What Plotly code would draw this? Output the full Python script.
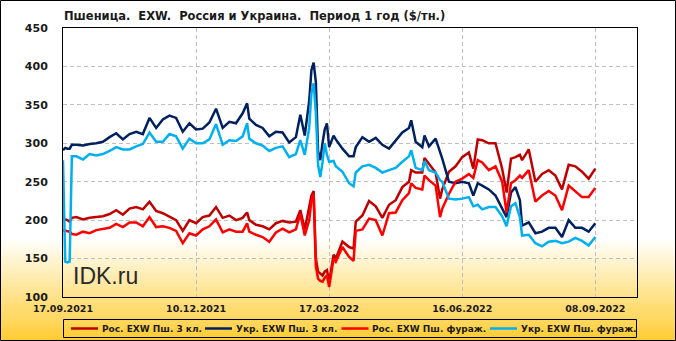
import plotly.graph_objects as go

# ---- data (x = trading-day index; 60 days between labelled dates) ----
X = [0, 1, 2, 3, 4, 6, 9, 12, 15, 18, 21, 24, 27, 30, 33, 36, 39, 42, 45, 48, 51, 54, 57, 60,
     63, 66, 69, 72, 75, 78, 81, 83, 84, 87, 90, 93, 96, 99, 102, 105, 107, 109, 111, 112, 113,
     114, 115, 116, 117, 118, 119, 120, 122, 123, 126, 129, 131, 132, 135, 138, 141, 144, 147,
     150, 153, 156, 157, 159, 162, 163, 165, 168, 170, 171, 174, 177, 180, 183, 185, 187, 189,
     192, 195, 198, 200, 202, 204, 206, 207, 210, 213, 216, 219, 222, 225, 228, 231, 234, 237, 240]

TICK_VALS = [0, 60, 120, 180, 240]
TICK_TEXT = ["17.09.2021", "10.12.2021", "17.03.2022", "16.06.2022", "08.09.2022"]

RUS_3 = [202, 201, 200, 198, 203,
         204, 201, 203, 204, 205, 208, 213, 207, 215, 217, 214, 224, 212, 209, 204, 200, 186, 200, 196, 204, 206, 217, 203, 206, 200, 203,
         210, 200,
         194, 192, 188, 196, 199, 197, 198,
         213, 188, 215,
         232, 238, 150, 133, 130, 128, 133, 135, 120,
         155, 150,
         172, 165,
         163, 198,
         206, 225, 218, 203, 220, 226, 243, 250,
         265, 262,
         262, 281,
         273, 262,
         228, 240,
         263, 270, 282, 288,
         267, 305, 304,
         300, 300, 267,
         236, 280, 282, 285, 278,
         292, 250, 260, 265, 258, 240, 272, 270, 263, 254, 267]

UKR_3 = [291, 294, 293, 293, 298,
         298, 297, 299, 300, 302, 308, 313, 305, 312, 315, 312, 333, 320, 331, 336, 333, 315, 326, 318, 319, 327, 345, 320, 328, 326, 339,
         352, 332,
         324, 320, 309, 315, 314, 301, 308,
         337, 310, 355,
         395, 405, 380, 290, 278, 300, 318, 326, 295,
         310, 305,
         293, 283,
         283, 295,
         308, 302, 307, 298, 293, 304, 314, 320,
         330, 302,
         295, 310,
         296, 306,
         290, 280,
         250, 248, 250, 248,
         232, 248, 245,
         240, 232, 214,
         204, 236, 243, 226, 193,
         197, 183, 185, 190, 190, 178, 200, 190, 190, 185, 196]

RUS_FEED = [187, 186, 185, 185, 182,
            181, 185, 183, 187, 189, 190, 195, 191, 197, 197, 192, 204, 191, 192, 190, 186, 170, 183, 180, 188, 192, 201, 184, 188, 185, 185,
            196, 185,
            181, 178, 172, 184, 189, 184, 188,
            208, 180, 200,
            225, 234, 140, 124, 121, 120, 125, 128, 113,
            150, 146,
            165, 152,
            147, 186,
            188, 202, 200, 180, 209, 210, 226, 235,
            248, 242,
            240, 258,
            252, 245,
            204, 215,
            234, 250, 254, 260,
            255, 278, 275,
            265, 270, 250,
            210, 248, 252, 258, 255,
            265, 224, 232, 238, 232, 213, 245, 238, 230, 230, 242]

UKR_FEED = [278, 146, 145, 146, 283,
            283, 279, 286, 284, 286, 290, 295, 292, 292, 296, 299, 314, 302, 302, 312, 309, 293, 306, 300, 300, 305, 325, 298, 304, 303, 309,
            326, 306,
            300, 297, 290, 294, 296, 282, 286,
            304, 285, 320,
            365, 378, 340, 272, 256, 275, 300, 285, 276,
            277, 270,
            263, 248,
            244, 262,
            270, 272, 268, 262, 265, 268, 276, 283,
            291, 268,
            265, 277,
            265, 262,
            252, 250,
            228, 227, 228, 230,
            218, 220, 214,
            217, 217, 205,
            192, 218, 222, 204, 180,
            181, 170, 166, 172, 173, 170, 172, 177, 173, 167, 178]

NAMES = ["Рос. EXW Пш. 3 кл.", "Укр. EXW Пш. 3 кл.", "Рос. EXW Пш. фураж.", "Укр. EXW Пш. фураж."]
VALUES = [RUS_3, UKR_3, RUS_FEED, UKR_FEED]
COLORS = ["#C00000", "#002060", "#FF0000", "#00B0F0"]
for vals in VALUES:
    assert len(vals) == len(X), len(vals)

# ---- geometry (pixels) ----
W, H = 676, 341
L, R, T, B = 63, 39, 28, 44
PW, PH = W - L - R, H - T - B


def px_x(p):
    return (p - L) / PW


def px_y(p):
    return 1 - (p - T) / PH


FONT = "Tahoma, Verdana, DejaVu Sans, sans-serif"

fig = go.Figure()
for name, vals, color in zip(NAMES, VALUES, COLORS):
    fig.add_trace(go.Scatter(x=X, y=vals, mode="lines", name=name,
                             line=dict(color=color, width=2.5), showlegend=False))

shapes = []
# background gradient (white -> gold) at the bottom of the chart
g0, g1 = 238, 341
c_end = (255, 204, 48)
steps = 52
for i in range(steps):
    y_a = g0 + (g1 - g0) * i / steps
    y_b = g0 + (g1 - g0) * (i + 1) / steps + 0.6
    t = (i + 0.5) / steps
    col = "rgb({},{},{})".format(
        round(255 + (c_end[0] - 255) * t),
        round(255 + (c_end[1] - 255) * t),
        round(255 + (c_end[2] - 255) * t))
    shapes.append(dict(type="rect", xref="paper", yref="paper", layer="below",
                       x0=px_x(0), x1=px_x(W), y0=px_y(y_b), y1=px_y(y_a),
                       fillcolor=col, line=dict(width=0)))
# legend frame
shapes.append(dict(type="rect", xref="paper", yref="paper", layer="above",
                   x0=px_x(63.5), x1=px_x(636.5), y0=px_y(337.5), y1=px_y(319.5),
                   fillcolor="rgba(0,0,0,0)", line=dict(color="black", width=1)))
# outer border
shapes.append(dict(type="rect", xref="paper", yref="paper", layer="above",
                   x0=px_x(0.5), x1=px_x(W - 0.5), y0=px_y(H - 0.5), y1=px_y(0.5),
                   fillcolor="rgba(0,0,0,0)", line=dict(color="black", width=1)))

annotations = [
    dict(text="Пшеница.\u00a0 EXW.\u00a0 Россия и Украина.\u00a0 Период 1 год ($/тн.)",
         xref="paper", yref="paper", x=px_x(62), y=px_y(16), xanchor="left", yanchor="middle",
         showarrow=False, font=dict(family=FONT, size=11.5, color="#1a1a1a", weight="bold")),
    dict(text="IDK.ru", xref="paper", yref="paper", x=px_x(71), y=px_y(276),
         xanchor="left", yanchor="middle", showarrow=False,
         font=dict(family="Liberation Sans, Arial, sans-serif", size=23, color="#2a2a2a")),
]

# manual legend (sample line + label) inside the framed strip below the plot
LEG_LINE_X = [71, 205, 341.5, 490]
LEG_Y = 328.5
for lx, name, color in zip(LEG_LINE_X, NAMES, COLORS):
    shapes.append(dict(type="line", xref="paper", yref="paper", layer="above",
                       x0=px_x(lx), x1=px_x(lx + 27), y0=px_y(LEG_Y), y1=px_y(LEG_Y),
                       line=dict(color=color, width=2.5)))
    annotations.append(dict(text=name, xref="paper", yref="paper", x=px_x(lx + 28.5),
                            y=px_y(LEG_Y), xanchor="left", yanchor="middle", showarrow=False,
                            font=dict(family=FONT, size=9, color="#1a1a1a", weight="bold")))

fig.update_layout(
    width=W, height=H,
    margin=dict(l=L, r=R, t=T, b=B, pad=0),
    paper_bgcolor="white", plot_bgcolor="rgba(0,0,0,0)",
    shapes=shapes, annotations=annotations,
    showlegend=False,
    xaxis=dict(range=[0, (PW) / ((595.3 - 63) / 240)], tickvals=TICK_VALS, ticktext=TICK_TEXT,
               showgrid=True, gridcolor="#BFBFBF", griddash="4px,3px", gridwidth=1,
               showline=True, linecolor="black", linewidth=1, mirror=True,
               zeroline=False, ticks="", ticklabelstandoff=3, automargin=False,
               tickfont=dict(family=FONT, size=9.5, color="#1a1a1a", weight="bold")),
    yaxis=dict(range=[100, 450], dtick=50, tick0=100,
               showgrid=True, gridcolor="#BFBFBF", griddash="4px,3px", gridwidth=1,
               showline=True, linecolor="black", linewidth=1, mirror=True,
               zeroline=False, ticks="", ticklabelstandoff=12, automargin=False,
               tickfont=dict(family=FONT, size=11, color="#1a1a1a", weight="bold")),
)

fig.write_html("out.html")
